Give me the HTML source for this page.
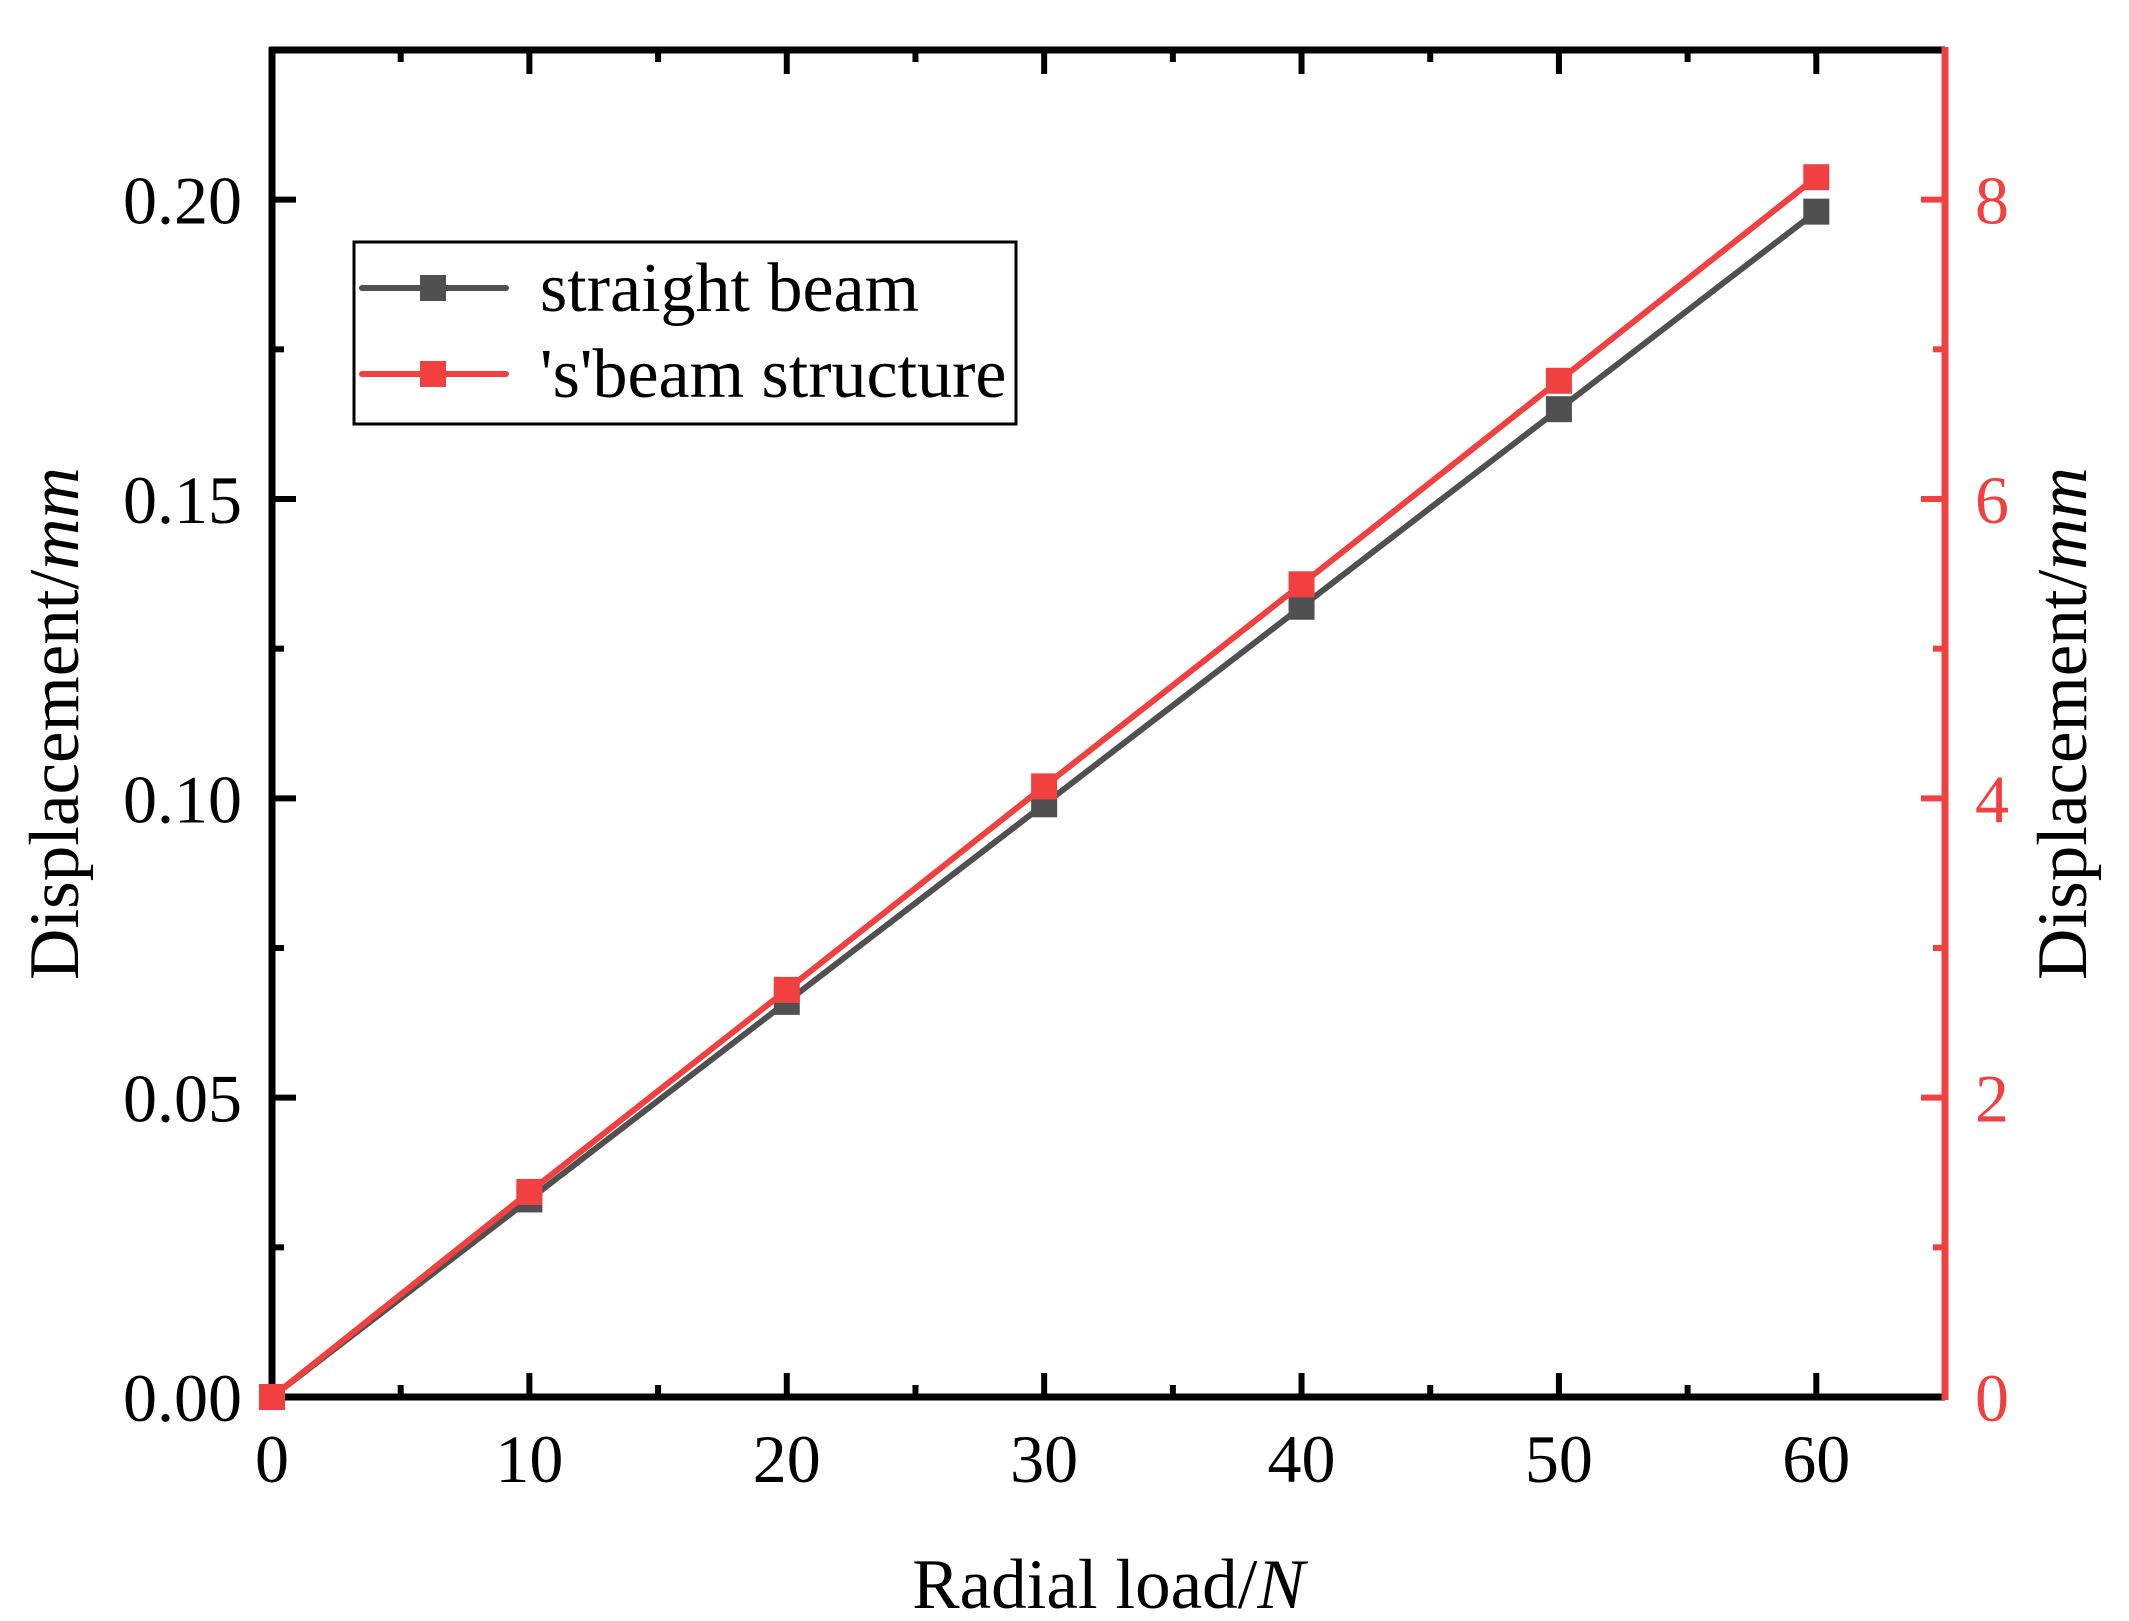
<!DOCTYPE html>
<html><head><meta charset="utf-8"><style>
html,body{margin:0;padding:0;background:#fff;}
svg{display:block;font-family:"Liberation Serif",serif;}
</style></head><body>
<svg id="chart" width="2129" height="1621" viewBox="0 0 2129 1621" xmlns="http://www.w3.org/2000/svg">
</svg>
<script>
const loads = [0, 10, 20, 30, 40, 50, 60];
const straightBeam = [0, 0.033, 0.066, 0.099, 0.132, 0.165, 0.198];
const sBeam = [0, 1.37, 2.72, 4.08, 5.43, 6.79, 8.15];
const xTicks = [0, 10, 20, 30, 40, 50, 60];
const yLeftTicks = ["0.00", "0.05", "0.10", "0.15", "0.20"];
const yRightTicks = ["0", "2", "4", "6", "8"];

const L = 272, R = 1945, T = 50, B = 1397;
const xMax = 65, yLMax = 0.225, yRMax = 9;
const NS = "http://www.w3.org/2000/svg";
const svg = document.getElementById('chart');
function X(v){ return L + v / xMax * (R - L); }
function YL(v){ return B - v / yLMax * (B - T); }
function YR(v){ return B - v / yRMax * (B - T); }
function mk(tag, attrs, parent){
  const e = document.createElementNS(NS, tag);
  for (const k in attrs) e.setAttribute(k, attrs[k]);
  (parent || svg).appendChild(e);
  return e;
}
const BLACK = "#000", GRAY = "#505050", RED = "#f04040";
const AW = 7;

for (let v = 0; v <= 60; v += 5) {
  const major = v % 10 === 0, len = major ? 24 : 12;
  const t1 = mk('line', {x1: X(v), x2: X(v), y1: B, y2: B - len, stroke: BLACK, 'stroke-width': 6});
  
  
  const t2 = mk('line', {x1: X(v), x2: X(v), y1: T, y2: T + len, stroke: BLACK, 'stroke-width': 6});
  
  
}
xTicks.forEach(v => {
  const t = mk('text', {x: X(v), y: 1482, 'font-size': 68, 'text-anchor': 'middle', fill: BLACK});
  t.textContent = String(v);
  
  
});
for (let i = 0; i <= 8; i++) {
  const v = i * 0.025, major = i % 2 === 0, len = major ? 24 : 12;
  const t = mk('line', {x1: L, x2: L + len, y1: YL(v), y2: YL(v), stroke: BLACK, 'stroke-width': 6});
  
  
}
yLeftTicks.forEach(s => {
  const t = mk('text', {x: 242, y: YL(parseFloat(s)) + 24, 'font-size': 68, 'text-anchor': 'end', fill: BLACK});
  t.textContent = s;
  
  
});
for (let v = 0; v <= 8; v++) {
  const len = v % 2 === 0 ? 24 : 12;
  const t = mk('line', {x1: R, x2: R - len, y1: YR(v), y2: YR(v), stroke: RED, 'stroke-width': 6});
  
  
}
yRightTicks.forEach(s => {
  const t = mk('text', {x: 1975, y: YR(parseFloat(s)) + 24, 'font-size': 68, 'text-anchor': 'start', fill: RED});
  t.textContent = s;
  
  
});
const ab = mk('line', {x1: L - 3, x2: R, y1: B, y2: B, stroke: BLACK, 'stroke-width': AW});


const at = mk('line', {x1: L - 3, x2: R, y1: T, y2: T, stroke: BLACK, 'stroke-width': AW});


const al = mk('line', {x1: L, x2: L, y1: T - 3, y2: B + 3, stroke: BLACK, 'stroke-width': AW});


const ar = mk('line', {x1: R, x2: R, y1: T - 3, y2: B + 3, stroke: RED, 'stroke-width': AW});



function series(vals, yf, color, name){
  const pts = loads.map((x, i) => X(x) + ',' + yf(vals[i])).join(' ');
  const pl = mk('polyline', {points: pts, fill: 'none', stroke: color, 'stroke-width': 6});
  
  
  loads.forEach((x, i) => {
    const r = mk('rect', {x: X(x) - 13, y: yf(vals[i]) - 13, width: 26, height: 26, fill: color});
    
    
  });
}
series(straightBeam, YL, GRAY, 'straight-beam');
series(sBeam, YR, RED, 's-beam');

const xt = mk('text', {x: (L + R) / 2, y: 1608, 'font-size': 71, 'text-anchor': 'middle', fill: BLACK});
xt.innerHTML = 'Radial load/<tspan font-style="italic">N</tspan>';


const ylt = mk('text', {x: 0, y: 0, 'font-size': 71, 'text-anchor': 'middle', fill: BLACK, transform: 'translate(78,' + ((T + B) / 2) + ') rotate(-90)'});
ylt.innerHTML = 'Displacement/<tspan font-style="italic">mm</tspan>';


const yrt = mk('text', {x: 0, y: 0, 'font-size': 71, 'text-anchor': 'middle', fill: BLACK, transform: 'translate(2086,' + ((T + B) / 2) + ') rotate(-90)'});
yrt.innerHTML = 'Displacement/<tspan font-style="italic">mm</tspan>';



const lg = mk('g', {});


mk('rect', {x: 354, y: 242, width: 662, height: 182, fill: '#fff', stroke: BLACK, 'stroke-width': 3}, lg);
[[GRAY, 'straight beam', 288, 'legend-entry-straight-beam'], [RED, "'s'beam structure", 374, 'legend-entry-s-beam']].forEach(e => {
  const g = mk('g', {}, lg);
  
  
  mk('line', {x1: 362, x2: 506, y1: e[2], y2: e[2], stroke: e[0], 'stroke-width': 6, 'stroke-linecap': 'round'}, g);
  mk('rect', {x: 420, y: e[2] - 13, width: 26, height: 26, fill: e[0]}, g);
  const t = mk('text', {x: 540, y: e[2] + 23, 'font-size': 70, fill: BLACK}, g);
  t.textContent = e[1];
});
</script>
</body></html>
